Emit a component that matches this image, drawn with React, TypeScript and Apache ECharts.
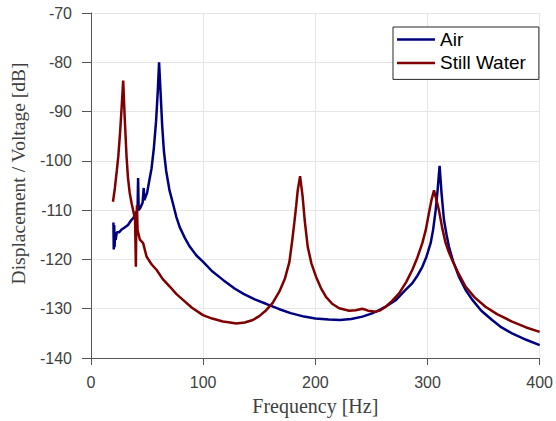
import React, { useEffect, useRef } from "react";
import * as echarts from "echarts";

const xTicks = [0, 100, 200, 300, 400];
const yTicks = [-140, -130, -120, -110, -100, -90, -80, -70];

const airFreq = [
  20, 20.3, 20.7, 21, 21.5, 22, 23, 25, 27, 30, 33, 36, 38, 40, 41.5, 42, 42.5, 44, 46, 47, 47.5, 50, 52, 54, 56, 58,
  59.5, 60.7, 62, 63.5, 65, 67, 70, 73, 76, 79, 84, 88, 94, 100, 108, 118, 128, 136, 146, 156, 168, 178, 190, 200,
  212, 222, 232, 242, 250, 257, 264, 272, 280, 286.5, 291, 295.4, 299, 302.8, 305, 307.3, 309, 310.8, 312.5, 314.7,
  317, 319.1, 323, 328, 334, 340, 348, 357.6, 366, 375.4, 388, 400,
];
const airDb = [
  -112.5, -118, -113, -117.5, -115, -116, -114.5, -114.5, -114, -113.5, -113, -112, -111.5, -110.5, -110, -103.5,
  -110, -109.5, -108.5, -105.5, -108, -106.5, -104, -101.5, -97.5, -92, -86, -80, -86, -93, -98, -102, -106, -108.6,
  -111.3, -113.4, -115.8, -117.4, -119.2, -120.5, -122.4, -124.2, -125.9, -127, -128.1, -129, -130.1, -130.9, -131.6,
  -132, -132.2, -132.3, -132.1, -131.6, -131, -130.3, -129.4, -128.2, -126.3, -124.8, -123.3, -121.5, -119.5, -116.7,
  -114, -110, -106, -101, -106.5, -112, -115, -117.4, -120.5, -123.5, -126.2, -128.2, -130.4, -132.3, -133.8, -135,
  -136.3, -137.4,
];

const waterFreq = [
  19.6, 21.3, 23, 24.3, 26, 27.5, 28.7, 30, 31.7, 33, 34.5, 36.2, 38, 39.3, 40, 40.4, 41, 41.5, 43.6, 46.5, 49.5, 54,
  58.4, 64, 70.2, 76, 82, 90, 99.8, 108, 117.6, 124, 129.5, 137, 144.3, 150, 156.2, 162, 168, 173, 176.9, 179.5, 181.3,
  183, 184.3, 186.4, 188, 188.7, 190.5, 193.2, 196.5, 200.6, 205, 209.5, 215, 221.3, 230.2, 236, 242, 247, 254, 258,
  262.8, 268, 274.7, 281, 286.5, 291, 295.4, 298.5, 301.3, 303.5, 305.8, 307.5, 310.2, 313, 316.2, 319, 322, 328,
  333.9, 342, 351.7, 362, 375.4, 388, 400,
];
const waterDb = [
  -108.3, -105.5, -102, -99.2, -94, -88.5, -83.7, -91, -99.2, -103.5, -106.5, -108.6, -110.5, -112, -121.5, -113,
  -109, -114, -116, -116.7, -119.4, -121, -122.1, -124, -125.5, -127, -128.2, -129.8, -131.3, -132, -132.6, -132.8,
  -133, -132.8, -132.3, -131.5, -130.3, -128.8, -126.5, -123.8, -120.5, -116, -112.5, -109, -106, -103.1, -106, -107.3,
  -112, -117.4, -120.8, -123.5, -125.8, -127.6, -129, -129.9, -130.4, -130.3, -130.0, -130.4, -130.6, -130.3, -129.6,
  -128.5, -126.9, -124.6, -122.1, -119.6, -116.7, -114, -110.6, -108, -106, -107.5, -110, -113.5, -116.7, -118.5,
  -120.1, -123, -125.5, -127.7, -129.6, -131.1, -132.6, -133.8, -134.7,
];

const zip = (xs: number[], ys: number[]) => xs.map((x, i) => [x, ys[i]]);

export default function App() {
  const ref = useRef<HTMLDivElement>(null);
  useEffect(() => {
    if (!ref.current) return;
    const chart = echarts.init(ref.current, null, { renderer: "svg" });
    const labelColor = "#404040";
    chart.setOption({
      animation: false,
      backgroundColor: "#ffffff",
      grid: { left: 91, right: 15, top: 13, bottom: 63, containLabel: false },
      legend: {
        orient: "vertical",
        left: 393,
        top: 27,
        backgroundColor: "#ffffff",
        borderColor: "#262626",
        borderWidth: 1,
        borderRadius: 0,
        padding: [3, 13, 7, 4],
        itemGap: 4.4,
        icon: "rect",
        itemWidth: 38,
        itemHeight: 2.5,
        textStyle: { fontFamily: "Liberation Sans", fontSize: 19, lineHeight: 19, color: "#000000" },
        data: ["Air", "Still Water"],
      },
      xAxis: {
        type: "value",
        min: xTicks[0],
        max: xTicks[xTicks.length - 1],
        interval: 100,
        name: "Frequency [Hz]",
        nameLocation: "middle",
        nameGap: 38,
        nameTextStyle: { fontFamily: "Liberation Serif", fontSize: 20, color: labelColor },
        axisLine: { show: true, onZero: false, lineStyle: { color: "#555555", width: 1 } },
        axisTick: { show: true, inside: false, length: 7, lineStyle: { color: "#555555" } },
        axisLabel: { fontFamily: "Liberation Sans", fontSize: 16, color: labelColor, margin: 16 },
        splitLine: { show: true, lineStyle: { color: "#e6e6e6", width: 1 } },
      },
      yAxis: {
        type: "value",
        min: yTicks[0],
        max: yTicks[yTicks.length - 1],
        interval: 10,
        name: "Displacement / Voltage [dB]",
        nameLocation: "middle",
        nameGap: 63,
        nameTextStyle: {
          fontFamily: "Liberation Serif",
          fontSize: 19.5,
          color: labelColor,
          padding: [0, 0, 0, 24],
        },
        axisLine: { show: true, onZero: false, lineStyle: { color: "#555555", width: 1 } },
        axisTick: { show: true, inside: false, length: 9, lineStyle: { color: "#555555" } },
        axisLabel: { fontFamily: "Liberation Sans", fontSize: 16, color: labelColor, margin: 19 },
        splitLine: { show: true, lineStyle: { color: "#e6e6e6", width: 1 } },
      },
      series: [
        {
          name: "Air",
          type: "line",
          data: zip(airFreq, airDb),
          showSymbol: false,
          symbol: "none",
          smooth: false,
          itemStyle: { color: "#00007f" },
          lineStyle: { color: "#00007f", width: 2.5 },
        },
        {
          name: "Still Water",
          type: "line",
          data: zip(waterFreq, waterDb),
          showSymbol: false,
          symbol: "none",
          smooth: false,
          itemStyle: { color: "#7f0000" },
          lineStyle: { color: "#7f0000", width: 2.5 },
        },
      ],
    });
    return () => chart.dispose();
  }, []);
  return <div ref={ref} style={{ width: 556, height: 421, position: "absolute", left: 0, top: 0 }} />;
}
